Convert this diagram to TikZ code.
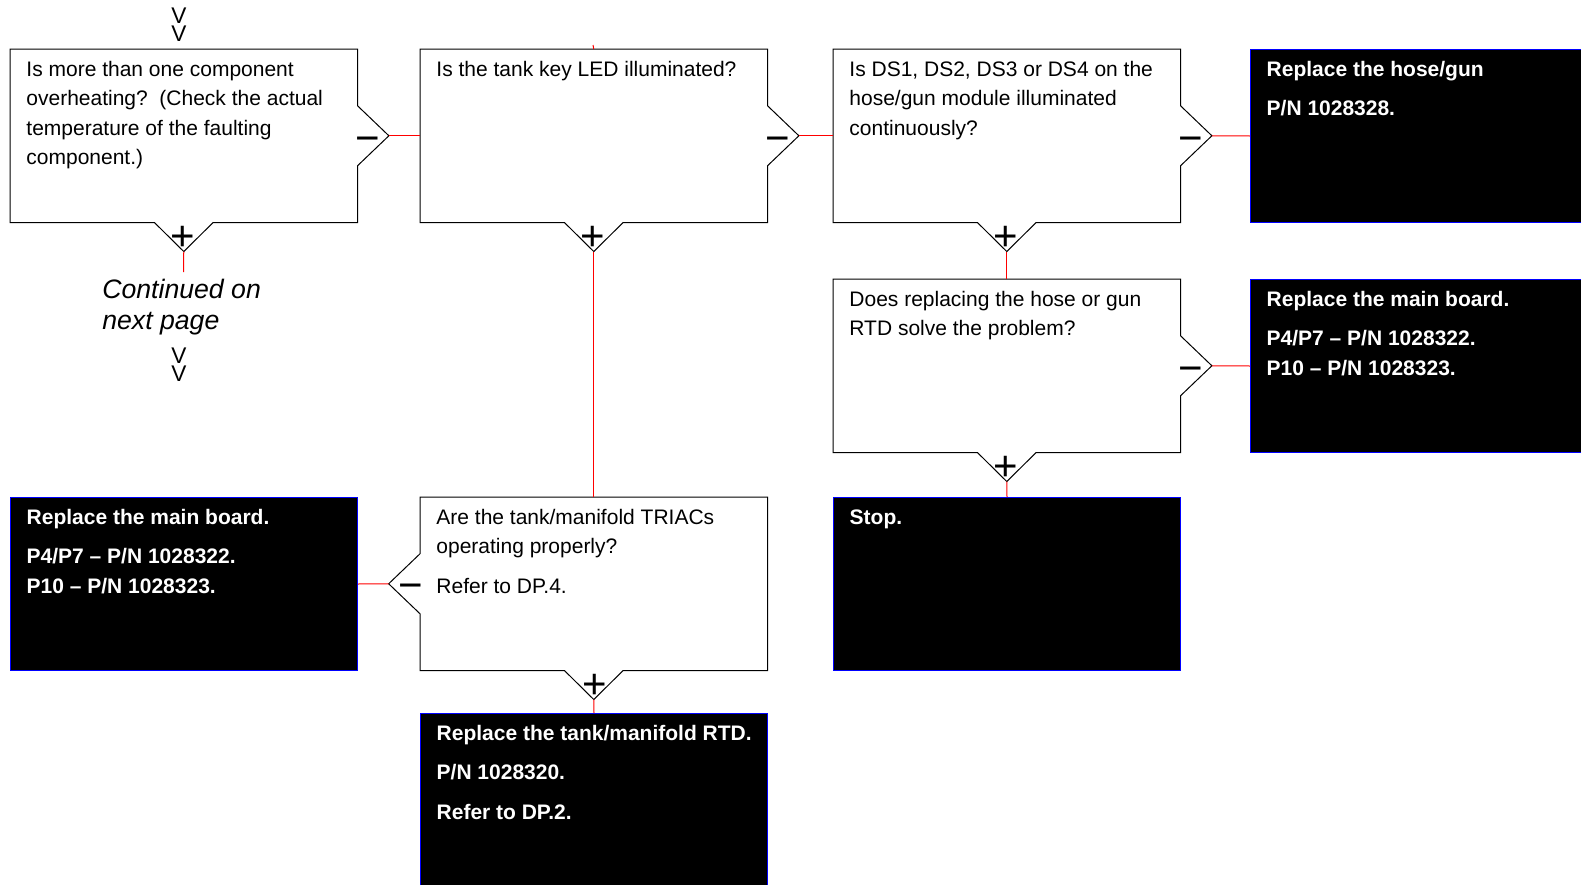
\documentclass[tikz,border=0pt]{standalone}
\usepackage{fontspec}
\setmainfont{Liberation Sans}
\usepackage{xcolor}
\usepackage{tikz}
\usetikzlibrary{positioning,calc}

% text inside every box: fixed height, text starts at the top left
\newcommand{\boxtext}[1]{\hspace*{12pt}\parbox[t][129.75pt][t]{248pt}{\raggedright\setlength{\parskip}{7.5pt}\rule{0pt}{20.25pt}#1}}

% question box, "no" to the right, "yes" downwards
\newcommand{\askright}[1]{%
  \draw[qline] (#1.north west) -- (#1.north east)
    -- ([yshift=22.5pt]#1.east) -- ([xshift=23.5pt]#1.east) coordinate (#1-no)
    -- ([yshift=-22.5pt]#1.east) -- (#1.south east)
    -- ([xshift=22pt]#1.south) -- ([yshift=-21.75pt]#1.south) coordinate (#1-yes)
    -- ([xshift=-22pt]#1.south) -- (#1.south west) -- cycle;
  \node[sign] (#1-minus) at ([xshift=7.5pt,yshift=-12.2pt]#1.east) {−};
  \node[sign] (#1-plus) at ([xshift=-1pt,yshift=-20.9pt]#1.south) {+};}

% question box, "no" to the left, "yes" downwards
\newcommand{\askleft}[1]{%
  \draw[qline] (#1.north west) -- (#1.north east) -- (#1.south east)
    -- ([xshift=22pt]#1.south) -- ([yshift=-21.75pt]#1.south) coordinate (#1-yes)
    -- ([xshift=-22pt]#1.south) -- (#1.south west)
    -- ([yshift=-22.5pt]#1.west) -- ([xshift=-23.5pt]#1.west) coordinate (#1-no)
    -- ([yshift=22.5pt]#1.west) -- cycle;
  \node[sign] (#1-minus) at ([xshift=-7.1pt,yshift=-11.5pt]#1.west) {−};
  \node[sign] (#1-plus) at ([xshift=1pt,yshift=-20.9pt]#1.south) {+};}

\begin{document}
\begin{tikzpicture}[x=0.75pt,y=-0.75pt,
  ask/.style={anchor=north west,inner sep=0pt,minimum width=260.25pt,minimum height=129.75pt,
    font=\fontsize{15.75pt}{22.1pt}\selectfont},
  fix/.style={ask,fill=black,draw=blue,line width=0.75pt,text=white,
    font=\fontsize{15.75pt}{22.1pt}\selectfont\bfseries},
  qline/.style={line width=0.75pt,black},
  link/.style={red,line width=0.75pt},
  sign/.style={inner sep=0pt,anchor=base,font=\fontsize{31.5pt}{31.5pt}\selectfont},
  chev/.style={inner sep=0pt,align=center,font=\fontsize{17pt}{13.9pt}\selectfont}]
\useasboundingbox (0,0) rectangle (1581,885);
\clip (0,0) rectangle (1581,885);

% first row
\node[ask] (q1) at (10,49) {\boxtext{Is more than one component\\overheating?\ \ (Check the actual\\temperature of the faulting\\component.)}};
\node[ask] (q2) at (420,49) {\boxtext{Is the tank key LED illuminated?}};
\node[ask] (q3) at (833,49) {\boxtext{Is DS1, DS2, DS3 or DS4 on the\\hose/gun module illuminated\\continuously?}};
\node[fix] (r1) at (1250,49) {\boxtext{Replace the hose/gun\par P/N 1028328.}};

% second row
\node[ask] (q4) at (833,279) {\boxtext{Does replacing the hose or gun\\RTD solve the problem?}};
\node[fix] (r2) at (1250,279) {\boxtext{Replace the main board.\par P4/P7 – P/N 1028322.\\P10 – P/N 1028323.}};

% third row
\node[fix] (r3) at (10,497) {\boxtext{Replace the main board.\par P4/P7 – P/N 1028322.\\P10 – P/N 1028323.}};
\node[ask] (q5) at (420,497) {\boxtext{Are the tank/manifold TRIACs\\operating properly?\par Refer to DP.4.}};
\node[fix] (stop) at (833,497) {\boxtext{Stop.}};

% last row
\node[fix] (r4) at (420,713) {\boxtext{Replace the tank/manifold RTD.\par P/N 1028320.\par Refer to DP.2.}};

\askright{q1}
\askright{q2}
\askright{q3}
\askright{q4}
\askleft{q5}

% page links
\node[chev] (in) at (179,24.5) {V\\V};
\coordinate (from) at (593,45);
\coordinate (cont) at (183.5,272);
\node[anchor=north west,inner sep=0pt,align=left,font=\fontsize{20pt}{23.5pt}\selectfont\itshape] (note) at (102,279) {Continued on\\next page};
\node[chev] (out) at (179,364.5) {V\\V};

% connectors
\draw[link] (from) -- (q2.north);
\draw[link] (q1-no) -- (q2.west);
\draw[link] (q1-yes) -- (cont);
\draw[link] (q2-no) -- (q3.west);
\draw[link] (q3-no) -- (r1.west);
\draw[link] (q3-yes) -- (q4.north);
\draw[link] (q4-no) -- (r2.west);
\draw[link] (q4-yes) -- (stop.north);
\draw[link] (q2-yes) -- (q5.north);
\draw[link] (q5-no) -- (r3.east);
\draw[link] (q5-yes) -- (r4.north);
\end{tikzpicture}
\end{document}
